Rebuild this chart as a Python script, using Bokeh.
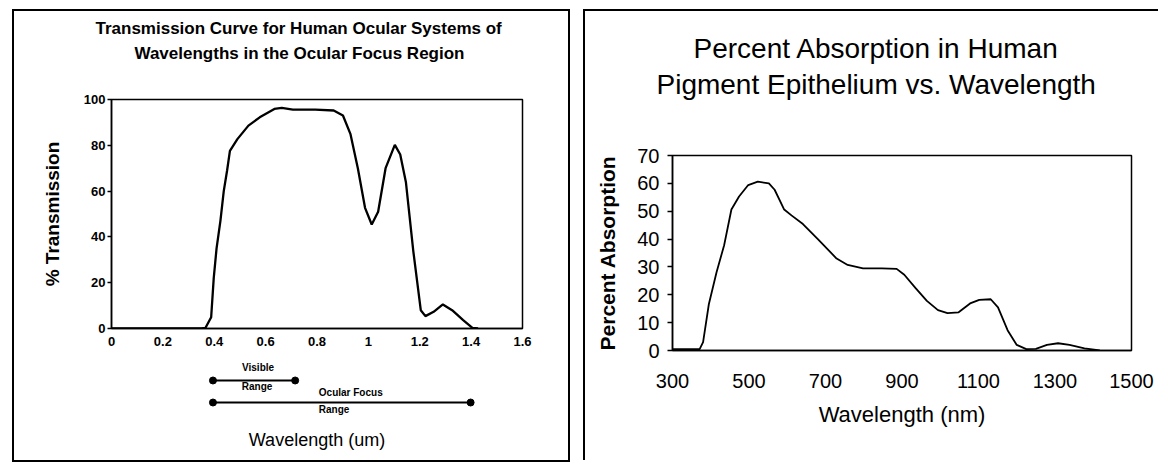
from bokeh.plotting import figure
from bokeh.models import Range1d, FixedTicker, Title, Spacer, Column, Row
from bokeh.embed import file_html
from bokeh.resources import INLINE
from bokeh.core.properties import value

# ---------------- data: left chart (transmission) ----------------
trans_wavelength_um = [0.0, 0.35, 0.366, 0.388, 0.398, 0.409, 0.424, 0.437, 0.45, 0.461,
                       0.49, 0.533, 0.577, 0.634, 0.663, 0.706, 0.793, 0.865, 0.901, 0.93,
                       0.959, 0.987, 1.013, 1.038, 1.067, 1.103, 1.124, 1.146, 1.175, 1.204,
                       1.222, 1.254, 1.29, 1.326, 1.369, 1.405, 1.427]
trans_percent = [0.0, 0.0, 0.3, 4.9, 22.0, 35.0, 47.0, 60.0, 69.0, 77.6,
                 82.7, 88.6, 92.2, 95.9, 96.3, 95.6, 95.6, 95.2, 93.0, 85.0,
                 70.0, 52.7, 45.4, 51.0, 70.0, 80.2, 76.0, 64.0, 33.7, 8.0,
                 5.4, 7.3, 10.5, 8.0, 3.7, 0.3, 0.0]
trans_x_ticks = [0, 0.2, 0.4, 0.6, 0.8, 1, 1.2, 1.4, 1.6]
trans_x_tick_labels = ["0", "0.2", "0.4", "0.6", "0.8", "1", "1.2", "1.4", "1.6"]
trans_y_ticks = [0, 20, 40, 60, 80, 100]

range_label_top = ["Visible", "Ocular Focus"]
range_label_bottom = ["Range", "Range"]
range_start_um = [0.395, 0.395]
range_end_um = [0.715, 1.398]
range_row = [1, 2]

# ---------------- data: right chart (absorption) ----------------
abs_wavelength_nm = [300, 371, 380, 395, 415, 435, 454, 474, 498, 523,
                     552, 567, 592, 611, 641, 680, 729, 758, 798, 847,
                     886, 906, 935, 965, 994, 1019, 1048, 1078, 1102, 1132,
                     1151, 1176, 1200, 1225, 1250, 1279, 1308, 1338, 1377, 1417]
abs_percent = [0.5, 0.5, 3.0, 16.6, 28.0, 37.8, 50.6, 55.3, 59.4, 60.6,
               60.0, 57.7, 50.6, 48.5, 45.4, 40.0, 33.0, 30.7, 29.5, 29.5,
               29.3, 27.2, 22.5, 17.8, 14.5, 13.4, 13.7, 16.9, 18.2, 18.4,
               15.5, 7.3, 2.0, 0.5, 0.6, 2.0, 2.6, 2.0, 0.8, 0.0]
abs_x_ticks = [300, 500, 700, 900, 1100, 1300, 1500]
abs_y_ticks = [0, 10, 20, 30, 40, 50, 60, 70]

FONT = "Liberation Sans"


def style_common(p):
    p.xgrid.visible = False
    p.ygrid.visible = False
    p.background_fill_color = "white"
    p.border_fill_color = "white"


def title_holder(width, height, left, right, top):
    """A figure whose only content is a two-line title; its empty frame is blank space."""
    p = figure(width=width, height=height, output_backend="svg", toolbar_location=None,
               title=None, min_border_left=left, min_border_right=right,
               min_border_top=top, min_border_bottom=0)
    style_common(p)
    p.outline_line_color = None
    p.xaxis.visible = False
    p.yaxis.visible = False
    return p


# ---------------- left panel, title ----------------
p0 = title_holder(554, 76, 97, 46, 53)
t12 = Title(text="Wavelengths in the Ocular Focus Region", align="left", offset=23,
            standoff=4, text_font_size="17px", text_font_style="bold", text_font=FONT,
            text_color="black")
t11 = Title(text="Transmission Curve for Human Ocular Systems of", align="left", offset=-16,
            standoff=4, text_font_size="17px", text_font_style="bold", text_font=FONT,
            text_color="black")
p0.add_layout(t12, "above")
p0.add_layout(t11, "above")

# ---------------- left panel, main plot ----------------
p1 = figure(width=554, height=268, x_range=Range1d(0, 1.6), y_range=Range1d(0, 100),
            output_backend="svg", toolbar_location=None, title=None,
            min_border_left=97, min_border_right=46, min_border_top=12, min_border_bottom=27)
style_common(p1)
p1.outline_line_color = "black"
p1.outline_line_width = 1.5

p1.line(trans_wavelength_um, trans_percent, line_color="black", line_width=2.3)

p1.xaxis.ticker = FixedTicker(ticks=trans_x_ticks)
p1.xaxis.major_label_overrides = {t: l for t, l in zip(trans_x_ticks, trans_x_tick_labels)}
p1.xaxis.major_tick_out = 0
p1.xaxis.major_tick_in = 0
p1.xaxis.minor_tick_line_color = None
p1.xaxis.major_label_standoff = 8
p1.yaxis.ticker = FixedTicker(ticks=trans_y_ticks)
p1.yaxis.major_tick_out = 4
p1.yaxis.major_tick_in = 0
p1.yaxis.minor_tick_line_color = None
p1.yaxis.major_label_standoff = 2
p1.yaxis.axis_label = "% Transmission"
p1.yaxis.axis_label_standoff = 18
p1.yaxis.axis_label_text_font = FONT
p1.yaxis.axis_label_text_font_size = "19px"
p1.yaxis.axis_label_text_font_style = "bold"
p1.yaxis.axis_label_text_color = "black"
for ax in (p1.xaxis, p1.yaxis):
    ax.axis_line_color = "black"
    ax.axis_line_width = 1.5
    ax.major_tick_line_color = "black"
    ax.major_tick_line_width = 1.5
    ax.major_label_text_font = FONT
    ax.major_label_text_font_size = "13px"
    ax.major_label_text_font_style = "bold"
    ax.major_label_text_color = "black"

# ---------------- left panel, range annotations strip ----------------
p2 = figure(width=554, height=105, x_range=p1.x_range, y_range=Range1d(3.045, -0.136),
            output_backend="svg", toolbar_location=None, title=None,
            min_border_left=97, min_border_right=46, min_border_top=0, min_border_bottom=35)
style_common(p2)
p2.outline_line_color = None
p2.yaxis.visible = False
p2.xaxis.ticker = FixedTicker(ticks=[])
p2.xaxis.axis_line_color = None
p2.xaxis.major_tick_line_color = None
p2.xaxis.minor_tick_line_color = None
p2.xaxis.axis_label = "Wavelength (um)"
p2.xaxis.axis_label_standoff = 4
p2.xaxis.axis_label_text_font = FONT
p2.xaxis.axis_label_text_font_size = "18px"
p2.xaxis.axis_label_text_font_style = "normal"
p2.xaxis.axis_label_text_color = "black"

p2.segment(x0=range_start_um, y0=range_row, x1=range_end_um, y1=range_row,
           line_color="black", line_width=2)
p2.scatter(x=range_start_um + range_end_um, y=range_row + range_row, size=7,
           fill_color="black", line_color="black")
mid = [(a + b) / 2 for a, b in zip(range_start_um, range_end_um)]
# visible range labels (centred)
p2.text(x=mid[:1], y=range_row[:1], text=range_label_top[:1], text_align="center",
        text_baseline="middle", y_offset=-13, x_offset=4, text_font=value(FONT),
        text_font_size="10px", text_font_style="bold", text_color="black")
p2.text(x=mid[:1], y=range_row[:1], text=range_label_bottom[:1], text_align="center",
        text_baseline="middle", y_offset=6, x_offset=3, text_font=value(FONT),
        text_font_size="10px", text_font_style="bold", text_color="black")
# ocular focus range labels (left aligned)
p2.text(x=mid[1:], y=range_row[1:], text=range_label_top[1:], text_align="left",
        text_baseline="middle", y_offset=-10, x_offset=-23, text_font=value(FONT),
        text_font_size="10px", text_font_style="bold", text_color="black")
p2.text(x=mid[1:], y=range_row[1:], text=range_label_bottom[1:], text_align="left",
        text_baseline="middle", y_offset=7, x_offset=-23, text_font=value(FONT),
        text_font_size="10px", text_font_style="bold", text_color="black")

# ---------------- right panel, title ----------------
p3a = title_holder(573, 130, 87, 27, 90)
t32 = Title(text="Pigment Epithelium vs. Wavelength", align="left", offset=-16,
            standoff=3, text_font_size="28px", text_font_style="normal", text_font=FONT,
            text_color="black")
t31 = Title(text="Percent Absorption in Human", align="left", offset=21,
            standoff=3, text_font_size="28px", text_font_style="normal", text_font=FONT,
            text_color="black")
p3a.add_layout(t32, "above")
p3a.add_layout(t31, "above")

# ---------------- right panel, chart ----------------
p3 = figure(width=573, height=319, x_range=Range1d(300, 1500), y_range=Range1d(0, 70),
            output_backend="svg", toolbar_location=None, title=None,
            min_border_left=87, min_border_right=27, min_border_top=14, min_border_bottom=110)
style_common(p3)
p3.outline_line_color = "black"
p3.outline_line_width = 1.5

p3.line(abs_wavelength_nm, abs_percent, line_color="black", line_width=1.8)

p3.xaxis.ticker = FixedTicker(ticks=abs_x_ticks)
p3.xaxis.major_tick_out = 0
p3.xaxis.major_tick_in = 0
p3.xaxis.minor_tick_line_color = None
p3.xaxis.major_label_standoff = 23
p3.xaxis.axis_label = "Wavelength (nm)"
p3.xaxis.axis_label_standoff = 11
p3.xaxis.axis_label_text_font = FONT
p3.xaxis.axis_label_text_font_size = "22px"
p3.xaxis.axis_label_text_font_style = "normal"
p3.xaxis.axis_label_text_color = "black"
p3.yaxis.ticker = FixedTicker(ticks=abs_y_ticks)
p3.yaxis.major_tick_out = 5
p3.yaxis.major_tick_in = 0
p3.yaxis.minor_tick_line_color = None
p3.yaxis.major_label_standoff = 8
p3.yaxis.axis_label = "Percent Absorption"
p3.yaxis.axis_label_standoff = 15
p3.yaxis.axis_label_text_font = FONT
p3.yaxis.axis_label_text_font_size = "21px"
p3.yaxis.axis_label_text_font_style = "bold"
p3.yaxis.axis_label_text_color = "black"
for ax in (p3.xaxis, p3.yaxis):
    ax.axis_line_color = "black"
    ax.axis_line_width = 1.5
    ax.major_tick_line_color = "black"
    ax.major_tick_line_width = 1.5
    ax.major_label_text_font = FONT
    ax.major_label_text_font_size = "20px"
    ax.major_label_text_font_style = "normal"
    ax.major_label_text_color = "black"

left_panel = Column(children=[p0, p1, p2], styles={"border": "2px solid black", "background": "white"})
right_panel = Column(children=[p3a, p3], styles={"border-top": "2px solid black",
                                                 "border-left": "2px solid black",
                                                 "background": "white"})
layout = Column(children=[Spacer(height=9),
                          Row(children=[Spacer(width=12), left_panel, Spacer(width=13), right_panel])])

open("out.html", "w").write(file_html(layout, INLINE))
